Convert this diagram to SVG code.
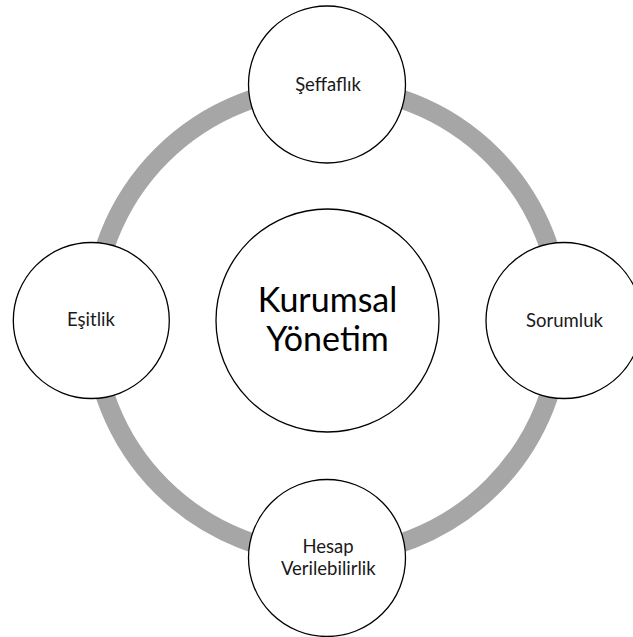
<svg xmlns="http://www.w3.org/2000/svg" width="633" height="637" viewBox="0 0 633 637">
<style>
.node{fill:#ffffff;stroke:#000000;stroke-width:1.3}
.lbl{font-family:Lato,"Liberation Sans",sans-serif;font-size:18.5px;fill:#1a1a1a;text-anchor:middle}
.big{font-family:Lato,"Liberation Sans",sans-serif;font-size:34px;fill:#000000;text-anchor:middle}
.ring{fill:none;stroke:#a6a6a6;stroke-width:19}
</style>
<rect width="633" height="637" fill="#ffffff"/>
<g id="connectors">
<circle class="ring" cx="327" cy="321" r="234"/>
</g>
<g id="seffaflik">
<circle class="node" cx="327" cy="84.5" r="78.5"/>
<text class="lbl" x="328" y="90.7">Şeffaflık</text>
</g>
<g id="esitlik">
<circle class="node" cx="91.3" cy="320.5" r="78"/>
<text class="lbl" x="91" y="326">Eşitlik</text>
</g>
<g id="sorumluk">
<circle class="node" cx="564" cy="320.5" r="78"/>
<text class="lbl" x="564.5" y="326.7">Sorumluk</text>
</g>
<g id="hesap">
<circle class="node" cx="327" cy="558" r="78.5"/>
<text class="lbl" x="328" y="552.7">Hesap</text>
<text class="lbl" x="328.3" y="575">Verilebilirlik</text>
</g>
<g id="kurumsal">
<circle class="node" cx="327.5" cy="320.5" r="111.5"/>
<text class="big" x="327.5" y="311.7">Kurumsal</text>
<text class="big" x="327.5" y="350.7">Yönetim</text>
</g>
</svg>
